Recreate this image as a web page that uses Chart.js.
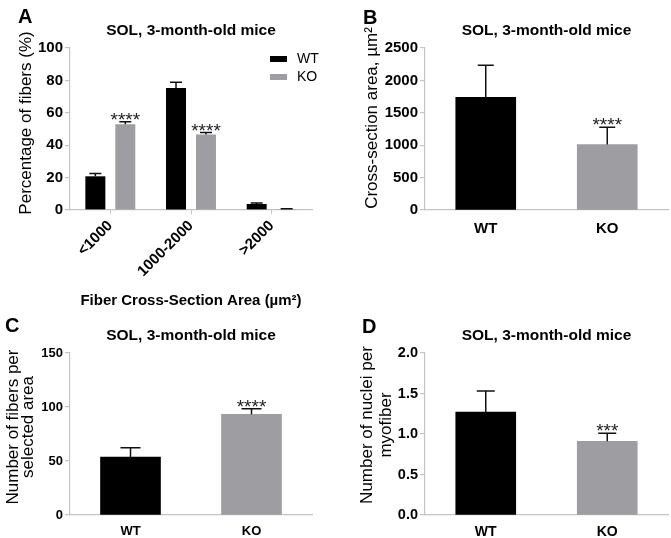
<!DOCTYPE html>
<html>
<head>
<meta charset="utf-8">
<script src="https://cdn.jsdelivr.net/npm/chart.js@4.4.0/dist/chart.umd.min.js"></script>
<style>
  html, body { margin: 0; padding: 0; background: #fff; }
  #wrap { position: relative; width: 671px; height: 538px; }
  canvas { position: absolute; }
</style>
</head>
<body>
<div id="wrap">
  <canvas id="chartA" style="left:0;top:0;width:335px;height:312px" width="335" height="312"></canvas>
  <canvas id="chartB" style="left:335px;top:0;width:336px;height:312px" width="336" height="312"></canvas>
  <canvas id="chartC" style="left:0;top:312px;width:335px;height:226px" width="335" height="226"></canvas>
  <canvas id="chartD" style="left:335px;top:312px;width:336px;height:226px" width="336" height="226"></canvas>
</div>
<script>
// ---- data ----
var sizeBins = ['<1000', '1000-2000', '>2000'];
var wtPct = [20.8, 75.3, 3.7];
var wtPctSd = [1.7, 3.5, 0.6];
var koPct = [53.0, 46.6, 0.6];
var koPctSd = [1.4, 1.2, 0.2];
var koPctStars = ['****', '****', ''];

var groups = ['WT', 'KO'];
var csaMean = [1737, 1010];
var csaSd = [495, 268];
var csaStars = ['', '****'];

var fiberCount = [53.6, 93.3];
var fiberSd = [8.6, 5.0];
var fiberStars = ['', '****'];

var nucleiPerFiber = [1.27, 0.91];
var nucleiSd = [0.26, 0.10];
var nucleiStars = ['', '***'];

var FONT = "'Liberation Sans', Arial, sans-serif";
var BAR_GRAY = '#9e9ea2';
var AXIS_GRAY = '#c4c4c4';

// draws error bars, stars, panel letter, title, y title, legend
var decorPlugin = {
  id: 'decor',
  afterDatasetsDraw: function (chart, args, o) {
    var ctx = chart.ctx, y = chart.scales.y;
    ctx.save();
    chart.data.datasets.forEach(function (ds, di) {
      var meta = chart.getDatasetMeta(di);
      meta.data.forEach(function (bar, i) {
        var topPx = y.getPixelForValue(ds.data[i] + ds.sd[i]);
        ctx.strokeStyle = '#111';
        ctx.lineWidth = 1.5;
        ctx.beginPath();
        ctx.moveTo(bar.x, bar.y);
        ctx.lineTo(bar.x, topPx);
        ctx.moveTo(bar.x - o.cap / 2, topPx);
        ctx.lineTo(bar.x + o.cap / 2, topPx);
        ctx.stroke();
        if (ds.stars && ds.stars[i]) {
          ctx.font = '19px ' + FONT;
          ctx.fillStyle = '#222';
          ctx.textAlign = 'center';
          ctx.textBaseline = 'alphabetic';
          ctx.fillText(ds.stars[i], bar.x, topPx + 4);
        }
      });
    });
    ctx.restore();
  },
  afterDraw: function (chart, args, o) {
    var ctx = chart.ctx, area = chart.chartArea;
    ctx.save();
    ctx.fillStyle = '#000';
    // panel letter
    ctx.font = 'bold 20px ' + FONT;
    ctx.textAlign = 'left';
    ctx.textBaseline = 'alphabetic';
    ctx.fillText(o.letter, o.letterX, o.letterY);
    // title
    ctx.font = 'bold 15.5px ' + FONT;
    ctx.textAlign = 'center';
    ctx.fillText('SOL, 3-month-old mice', (area.left + area.right) / 2, o.titleY);
    // y title
    ctx.font = '17px ' + FONT;
    ctx.textBaseline = 'middle';
    o.yTitle.forEach(function (line, i) {
      ctx.save();
      ctx.translate(o.yTitleX[i], o.yTitleY);
      ctx.rotate(-Math.PI / 2);
      ctx.fillText(line, 0, 0);
      ctx.restore();
    });
    // x title
    if (o.xTitle) {
      ctx.font = 'bold 15px ' + FONT;
      ctx.textBaseline = 'alphabetic';
      ctx.fillText(o.xTitle, (area.left + area.right) / 2, o.xTitleY);
    }
    // legend
    if (o.legend) {
      ctx.font = '14px ' + FONT;
      ctx.textAlign = 'left';
      ctx.textBaseline = 'middle';
      chart.data.datasets.forEach(function (ds, i) {
        ctx.fillStyle = ds.backgroundColor;
        ctx.fillRect(270, 56 + i * 18, 17, 6);
        ctx.fillStyle = '#000';
        ctx.fillText(ds.label, 297, 59 + i * 18);
      });
    }
    ctx.restore();
  }
};

function makeScales(cfg) {
  return {
    x: {
      afterFit: function (s) { s.height = cfg.xHeight; },
      grid: { display: cfg.xTicks, drawOnChartArea: false, offset: false, tickLength: 4, color: AXIS_GRAY },
      border: { display: true, color: AXIS_GRAY, width: 1.2 },
      ticks: {
        color: '#000',
        font: { family: FONT, weight: 'bold', size: cfg.xFont },
        padding: cfg.xPad,
        maxRotation: cfg.rot, minRotation: cfg.rot
      }
    },
    y: {
      min: 0, max: cfg.max,
      afterFit: function (s) { s.width = cfg.left; },
      grid: { drawOnChartArea: false, tickLength: 5, color: AXIS_GRAY, lineWidth: 1.2 },
      border: { display: true, color: AXIS_GRAY, width: 1.2 },
      ticks: {
        stepSize: cfg.step,
        color: '#000',
        padding: 2,
        font: { family: FONT, weight: 'bold', size: cfg.yFont },
        callback: cfg.fmt || function (v) { return v; }
      }
    }
  };
}

function baseOptions(cfg, decor) {
  return {
    responsive: false,
    animation: false,
    layout: { padding: { top: cfg.top, right: cfg.right, left: 0, bottom: 0 } },
    plugins: { legend: { display: false }, title: { display: false }, tooltip: { enabled: false }, decor: decor },
    scales: makeScales(cfg)
  };
}

// A: distribution
new Chart(document.getElementById('chartA').getContext('2d'), {
  type: 'bar',
  data: {
    labels: sizeBins,
    datasets: [
      { label: 'WT', data: wtPct, sd: wtPctSd, backgroundColor: '#000', categoryPercentage: 0.743, barPercentage: 0.667 },
      { label: 'KO', data: koPct, sd: koPctSd, stars: koPctStars, backgroundColor: BAR_GRAY, categoryPercentage: 0.743, barPercentage: 0.667 }
    ]
  },
  options: baseOptions(
    { top: 48, right: 23, left: 70, xHeight: 102, xTicks: true, xFont: 15, xPad: 3, rot: 45, max: 100, step: 20, yFont: 15 },
    { cap: 12, letter: 'A', letterX: 18, letterY: 23, titleY: 35, yTitle: ['Percentage of fibers (%)'], yTitleX: [26], yTitleY: 123,
      xTitle: 'Fiber Cross-Section Area (\u00b5m\u00b2)', xTitleY: 305, legend: true }
  ),
  plugins: [decorPlugin]
});

// B: cross-section area
new Chart(document.getElementById('chartB').getContext('2d'), {
  type: 'bar',
  data: {
    labels: groups,
    datasets: [{ label: 'CSA', data: csaMean, sd: csaSd, stars: csaStars, backgroundColor: ['#000', BAR_GRAY], barThickness: 60 }]
  },
  options: baseOptions(
    { top: 48, right: 3, left: 90, xHeight: 102, xTicks: false, xFont: 15, xPad: 6, rot: 0, max: 2500, step: 500, yFont: 15 },
    { cap: 16, letter: 'B', letterX: 28, letterY: 24, titleY: 35, yTitle: ['Cross-section area, \u00b5m\u00b2'], yTitleX: [37], yTitleY: 118 }
  ),
  plugins: [decorPlugin]
});

// C: fibers per area
new Chart(document.getElementById('chartC').getContext('2d'), {
  type: 'bar',
  data: {
    labels: groups,
    datasets: [{ label: 'Fibers', data: fiberCount, sd: fiberSd, stars: fiberStars, backgroundColor: ['#000', BAR_GRAY], barThickness: 60 }]
  },
  options: baseOptions(
    { top: 41, right: 23, left: 70, xHeight: 23, xTicks: false, xFont: 13, xPad: 5, rot: 0, max: 150, step: 50, yFont: 13 },
    { cap: 20, letter: 'C', letterX: 5, letterY: 20, titleY: 28, yTitle: ['Number of fibers per', 'selected area'], yTitleX: [13, 28], yTitleY: 115 }
  ),
  plugins: [decorPlugin]
});

// D: nuclei per fiber
new Chart(document.getElementById('chartD').getContext('2d'), {
  type: 'bar',
  data: {
    labels: groups,
    datasets: [{ label: 'Nuclei', data: nucleiPerFiber, sd: nucleiSd, stars: nucleiStars, backgroundColor: ['#000', BAR_GRAY], barThickness: 60 }]
  },
  options: baseOptions(
    { top: 41, right: 3, left: 90, xHeight: 23, xTicks: false, xFont: 14, xPad: 5, rot: 0, max: 2, step: 0.5, yFont: 14.5,
      fmt: function (v) { return v.toFixed(1); } },
    { cap: 18, letter: 'D', letterX: 27, letterY: 21, titleY: 28, yTitle: ['Number of nuclei per', 'myofiber'], yTitleX: [32, 51], yTitleY: 113 }
  ),
  plugins: [decorPlugin]
});
</script>
</body>
</html>
